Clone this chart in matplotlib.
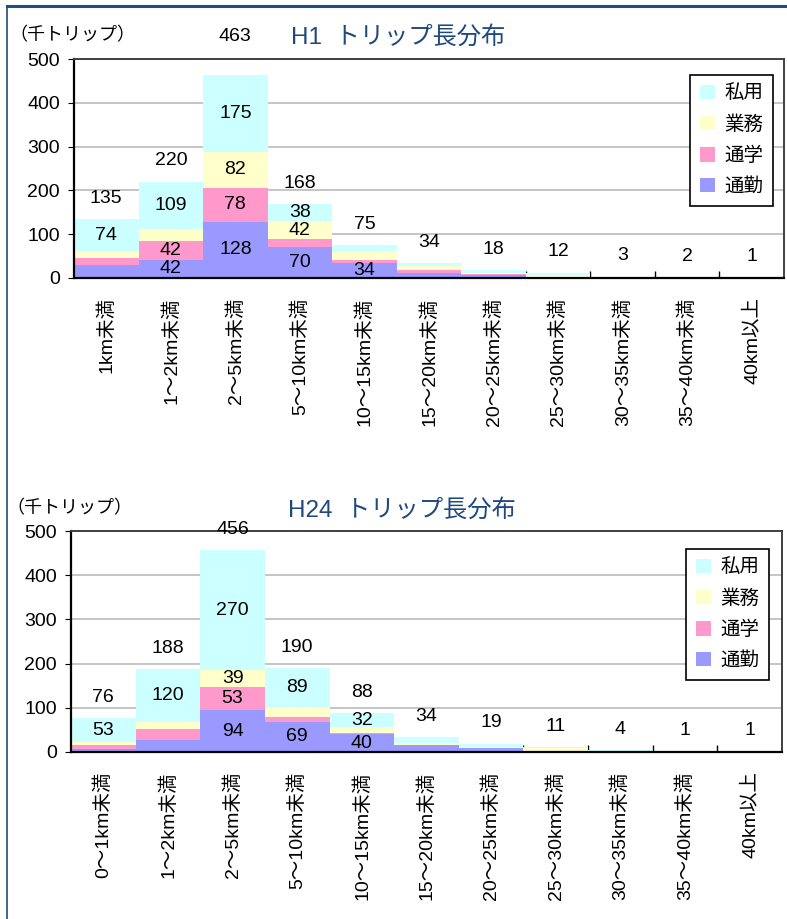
import numpy as np
import matplotlib.pyplot as plt
from matplotlib.lines import Line2D

plt.rcParams['font.family'] = ['Liberation Sans', 'Noto Sans CJK JP']

W, H = 787, 919

purposes = ['通勤', '通学', '業務', '私用']
colors = ['#9999FF', '#FF99CC', '#FFFFCC', '#CCFFFF']

labels_h24 = ['0～1km未満', '1～2km未満', '2～5km未満', '5～10km未満', '10～15km未満',
              '15～20km未満', '20～25km未満', '25～30km未満', '30～35km未満',
              '35～40km未満', '40km以上']
labels_h1 = ['1km未満'] + labels_h24[1:]

# 千トリップ
h1_commute = [29, 42, 128, 70, 34, 12, 7, 2, 0, 0, 0]
h1_school = [17, 42, 78, 18, 8, 7, 2, 0, 0, 0, 0]
h1_business = [15, 27, 82, 42, 19, 9, 3, 4, 2, 1, 0]
h1_private = [74, 109, 175, 38, 14, 6, 6, 6, 1, 1, 1]

h24_commute = [7, 27, 94, 69, 40, 15, 8, 1, 0, 0, 0]
h24_school = [8, 24, 53, 11, 4, 1, 1, 0, 0, 0, 0]
h24_business = [8, 17, 39, 21, 12, 5, 3, 8, 3, 0, 1]
h24_private = [53, 120, 270, 89, 32, 13, 7, 2, 1, 1, 0]

yticks = [0, 100, 200, 300, 400, 500]


def px_axes(fig, left, top, right, bottom):
    return fig.add_axes([left / W, 1 - bottom / H, (right - left) / W, (bottom - top) / H])


def draw_chart(ax, cats, series, legend_anchor, total_nudge=None):
    total_nudge = total_nudge or {}
    x = np.arange(len(cats))
    base = np.zeros(len(cats))
    bars = []
    for name, vals, col in zip(purposes, series, colors):
        vals = np.array(vals, dtype=float)
        b = ax.bar(x, vals, width=1.0, bottom=base, color=col, edgecolor='none',
                   label=name, zorder=2)
        bars.append(b)
        # values of 30 and more get a label inside the segment
        for xi, v, b0 in zip(x, vals, base):
            if v >= 30:
                ax.text(xi, b0 + v / 2, f'{int(v)}', ha='center', va='center',
                        fontsize=14, zorder=4)
        base += vals

    for xi, tot in zip(x, base):
        ax.annotate(f'{int(tot)}', (xi, tot), xytext=(0, 15 + total_nudge.get(xi, 0)),
                    textcoords='offset points', ha='center', va='center',
                    fontsize=14, zorder=5)

    ax.set_xlim(-0.5, len(cats) - 0.5)
    ax.set_ylim(0, 500)
    ax.set_yticks(yticks)
    ax.tick_params(axis='y', labelsize=14, length=4, direction='out', pad=6)
    ax.set_xticks(x)
    ax.set_xticklabels(cats, rotation=90, fontsize=14, va='top', ha='center')
    ax.tick_params(axis='x', which='major', length=0, pad=14)
    ax.set_xticks(np.arange(0.5, len(cats) - 1, 1), minor=True)
    ax.tick_params(axis='x', which='minor', direction='in', length=5, width=1, color='black')

    ax.yaxis.grid(True, color='#C0C0C0', linewidth=1.3)
    ax.set_axisbelow(True)
    for side in ['left', 'bottom']:
        ax.spines[side].set_color('black')
        ax.spines[side].set_linewidth(1.6)
    for side in ['top', 'right']:
        ax.spines[side].set_color('#404040')
        ax.spines[side].set_linewidth(1.4)

    leg = ax.legend(bars[::-1], purposes[::-1], loc='upper right',
                    bbox_to_anchor=legend_anchor, borderaxespad=0,
                    fontsize=14, frameon=True, fancybox=False, framealpha=1,
                    edgecolor='black', handlelength=0.75, handleheight=0.75,
                    handletextpad=0.5, borderpad=0.5, labelspacing=0.66)
    leg.get_frame().set_linewidth(1.2)


fig = plt.figure(figsize=(W / 100, H / 100), dpi=100)

ax1 = px_axes(fig, 74, 59, 784, 278)
draw_chart(ax1, labels_h1, [h1_commute, h1_school, h1_business, h1_private],
           ((773 - 74) / 710, (278 - 75) / 219), total_nudge={2: 13})

ax2 = px_axes(fig, 71, 531, 782, 752)
draw_chart(ax2, labels_h24, [h24_commute, h24_school, h24_business, h24_private],
           ((769 - 71) / 711, (752 - 549) / 221))

title_color = '#1F497D'
fig.text(398 / W, 1 - 37 / H, 'H1  トリップ長分布', ha='center', va='center',
         fontsize=17.5, color=title_color)
fig.text(402 / W, 1 - 510 / H, 'H24  トリップ長分布', ha='center', va='center',
         fontsize=17.5, color=title_color)
fig.text(9 / W, 1 - 36 / H, '（千トリップ）', ha='left', va='center', fontsize=13)
fig.text(6 / W, 1 - 509 / H, '（千トリップ）', ha='left', va='center', fontsize=13)

# outer frame lines
frame_color = '#1F4E79'
fig.add_artist(Line2D([7 / W, 1], [1 - 6 / H, 1 - 6 / H], color=frame_color, linewidth=2.2))
fig.add_artist(Line2D([7 / W, 7 / W], [1 - 6 / H, 0], color=frame_color, linewidth=1.2))

fig.savefig('out.png', dpi=100)
